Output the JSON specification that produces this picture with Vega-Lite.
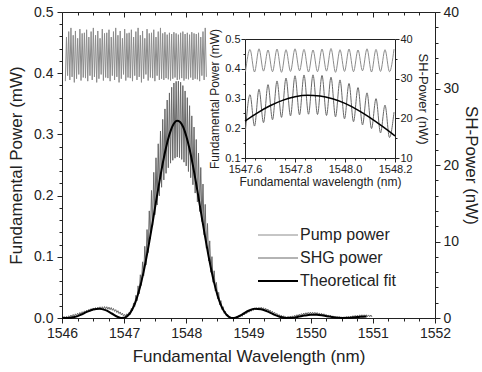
{
"$schema": "https://vega.github.io/schema/vega-lite/v6.json",
"width": 373, "height": 306,
"autosize": "none",
"padding": {"left": 62, "top": 12, "right": 47, "bottom": 54},
"config": {
  "font": "Liberation Sans",
  "view": {"stroke": null},
  "axis": {"grid": false, "labelFont": "Liberation Sans", "titleFont": "Liberation Sans", "titleFontWeight": "normal", "domainColor": "#222", "tickColor": "#222", "labelColor": "#222", "titleColor": "#222"},
  "legend": {"labelFont": "Liberation Sans"}
},
"datasets": {
"pump": [
{"wl":1546.054,"p":0.387},{"wl":1546.072,"p":0.459},{"wl":1546.090,"p":0.396},{"wl":1546.108,"p":0.468},{"wl":1546.126,"p":0.389},{"wl":1546.144,"p":0.474},{"wl":1546.162,"p":0.394},{"wl":1546.180,"p":0.462},{"wl":1546.198,"p":0.385},{"wl":1546.216,"p":0.469},{"wl":1546.234,"p":0.391},{"wl":1546.252,"p":0.457},{"wl":1546.270,"p":0.398},{"wl":1546.288,"p":0.472},{"wl":1546.306,"p":0.388},{"wl":1546.324,"p":0.465},{"wl":1546.342,"p":0.393},{"wl":1546.360,"p":0.466},{"wl":1546.378,"p":0.392},{"wl":1546.396,"p":0.471},{"wl":1546.414,"p":0.387},{"wl":1546.432,"p":0.459},{"wl":1546.450,"p":0.396},{"wl":1546.468,"p":0.468},{"wl":1546.486,"p":0.389},{"wl":1546.504,"p":0.474},{"wl":1546.522,"p":0.394},{"wl":1546.540,"p":0.462},{"wl":1546.558,"p":0.385},{"wl":1546.576,"p":0.469},{"wl":1546.594,"p":0.391},{"wl":1546.612,"p":0.457},{"wl":1546.630,"p":0.398},{"wl":1546.648,"p":0.472},{"wl":1546.666,"p":0.388},{"wl":1546.684,"p":0.465},{"wl":1546.702,"p":0.393},{"wl":1546.720,"p":0.466},{"wl":1546.738,"p":0.392},{"wl":1546.756,"p":0.471},{"wl":1546.774,"p":0.387},{"wl":1546.792,"p":0.459},{"wl":1546.810,"p":0.396},{"wl":1546.828,"p":0.468},{"wl":1546.846,"p":0.389},{"wl":1546.864,"p":0.474},{"wl":1546.882,"p":0.394},{"wl":1546.900,"p":0.462},{"wl":1546.918,"p":0.385},{"wl":1546.936,"p":0.469},{"wl":1546.954,"p":0.391},{"wl":1546.972,"p":0.457},{"wl":1546.990,"p":0.398},{"wl":1547.008,"p":0.472},{"wl":1547.026,"p":0.388},{"wl":1547.044,"p":0.465},{"wl":1547.062,"p":0.393},{"wl":1547.080,"p":0.466},{"wl":1547.098,"p":0.392},{"wl":1547.116,"p":0.471},{"wl":1547.134,"p":0.387},{"wl":1547.152,"p":0.459},{"wl":1547.170,"p":0.396},{"wl":1547.188,"p":0.468},{"wl":1547.206,"p":0.389},{"wl":1547.224,"p":0.474},{"wl":1547.242,"p":0.394},{"wl":1547.260,"p":0.462},{"wl":1547.278,"p":0.385},{"wl":1547.296,"p":0.469},{"wl":1547.314,"p":0.391},{"wl":1547.332,"p":0.457},{"wl":1547.350,"p":0.398},{"wl":1547.368,"p":0.472},{"wl":1547.386,"p":0.388},{"wl":1547.404,"p":0.465},{"wl":1547.422,"p":0.393},{"wl":1547.440,"p":0.466},{"wl":1547.458,"p":0.392},{"wl":1547.476,"p":0.471},{"wl":1547.494,"p":0.387},{"wl":1547.512,"p":0.459},{"wl":1547.530,"p":0.396},{"wl":1547.548,"p":0.468},{"wl":1547.566,"p":0.389},{"wl":1547.584,"p":0.474},{"wl":1547.602,"p":0.391},{"wl":1547.620,"p":0.465},{"wl":1547.638,"p":0.389},{"wl":1547.656,"p":0.467},{"wl":1547.674,"p":0.392},{"wl":1547.692,"p":0.463},{"wl":1547.710,"p":0.390},{"wl":1547.728,"p":0.466},{"wl":1547.746,"p":0.388},{"wl":1547.764,"p":0.464},{"wl":1547.782,"p":0.391},{"wl":1547.800,"p":0.467},{"wl":1547.818,"p":0.393},{"wl":1547.836,"p":0.465},{"wl":1547.854,"p":0.389},{"wl":1547.872,"p":0.463},{"wl":1547.890,"p":0.390},{"wl":1547.908,"p":0.466},{"wl":1547.926,"p":0.392},{"wl":1547.944,"p":0.468},{"wl":1547.962,"p":0.388},{"wl":1547.980,"p":0.464},{"wl":1547.998,"p":0.391},{"wl":1548.016,"p":0.466},{"wl":1548.034,"p":0.390},{"wl":1548.052,"p":0.463},{"wl":1548.070,"p":0.393},{"wl":1548.088,"p":0.467},{"wl":1548.106,"p":0.389},{"wl":1548.124,"p":0.465},{"wl":1548.142,"p":0.391},{"wl":1548.160,"p":0.464},{"wl":1548.178,"p":0.390},{"wl":1548.196,"p":0.466},{"wl":1548.214,"p":0.387},{"wl":1548.232,"p":0.459},{"wl":1548.250,"p":0.396},{"wl":1548.268,"p":0.468},{"wl":1548.286,"p":0.389},{"wl":1548.304,"p":0.474},{"wl":1548.322,"p":0.394}
],
"shg": [
{"wl":1546.000,"s":0.10},{"wl":1546.018,"s":0.02},{"wl":1546.036,"s":0.17},{"wl":1546.054,"s":0.02},{"wl":1546.072,"s":0.22},{"wl":1546.090,"s":0.04},{"wl":1546.108,"s":0.29},{"wl":1546.126,"s":0.08},{"wl":1546.144,"s":0.39},{"wl":1546.162,"s":0.12},{"wl":1546.180,"s":0.46},{"wl":1546.198,"s":0.20},{"wl":1546.216,"s":0.54},{"wl":1546.234,"s":0.29},{"wl":1546.252,"s":0.63},{"wl":1546.270,"s":0.38},{"wl":1546.288,"s":0.72},{"wl":1546.306,"s":0.47},{"wl":1546.324,"s":0.82},{"wl":1546.342,"s":0.58},{"wl":1546.360,"s":0.93},{"wl":1546.378,"s":0.68},{"wl":1546.396,"s":1.04},{"wl":1546.414,"s":0.79},{"wl":1546.432,"s":1.13},{"wl":1546.450,"s":0.88},{"wl":1546.468,"s":1.22},{"wl":1546.486,"s":0.97},{"wl":1546.504,"s":1.31},{"wl":1546.522,"s":1.03},{"wl":1546.540,"s":1.36},{"wl":1546.558,"s":1.09},{"wl":1546.576,"s":1.41},{"wl":1546.594,"s":1.14},{"wl":1546.612,"s":1.46},{"wl":1546.630,"s":1.17},{"wl":1546.648,"s":1.47},{"wl":1546.666,"s":1.18},{"wl":1546.684,"s":1.49},{"wl":1546.702,"s":1.20},{"wl":1546.720,"s":1.47},{"wl":1546.738,"s":1.14},{"wl":1546.756,"s":1.42},{"wl":1546.774,"s":1.09},{"wl":1546.792,"s":1.36},{"wl":1546.810,"s":1.01},{"wl":1546.828,"s":1.24},{"wl":1546.846,"s":0.87},{"wl":1546.864,"s":1.09},{"wl":1546.882,"s":0.72},{"wl":1546.900,"s":0.95},{"wl":1546.918,"s":0.57},{"wl":1546.936,"s":0.79},{"wl":1546.954,"s":0.41},{"wl":1546.972,"s":0.63},{"wl":1546.990,"s":0.25},{"wl":1547.008,"s":0.47},{"wl":1547.026,"s":0.23},{"wl":1547.044,"s":0.55},{"wl":1547.062,"s":0.30},{"wl":1547.080,"s":0.73},{"wl":1547.098,"s":0.47},{"wl":1547.116,"s":1.26},{"wl":1547.134,"s":0.93},{"wl":1547.152,"s":1.97},{"wl":1547.170,"s":1.51},{"wl":1547.188,"s":2.96},{"wl":1547.206,"s":2.24},{"wl":1547.224,"s":4.20},{"wl":1547.242,"s":3.17},{"wl":1547.260,"s":5.65},{"wl":1547.278,"s":4.26},{"wl":1547.296,"s":7.34},{"wl":1547.314,"s":5.53},{"wl":1547.332,"s":9.37},{"wl":1547.350,"s":6.92},{"wl":1547.368,"s":11.56},{"wl":1547.386,"s":8.55},{"wl":1547.404,"s":14.0},{"wl":1547.422,"s":10.31},{"wl":1547.440,"s":16.67},{"wl":1547.458,"s":12.12},{"wl":1547.476,"s":19.04},{"wl":1547.494,"s":13.5},{"wl":1547.512,"s":20.94},{"wl":1547.530,"s":14.77},{"wl":1547.548,"s":22.77},{"wl":1547.566,"s":15.97},{"wl":1547.584,"s":24.43},{"wl":1547.602,"s":17.09},{"wl":1547.620,"s":25.96},{"wl":1547.638,"s":18.05},{"wl":1547.656,"s":27.33},{"wl":1547.674,"s":18.91},{"wl":1547.692,"s":28.49},{"wl":1547.710,"s":19.64},{"wl":1547.728,"s":29.42},{"wl":1547.746,"s":20.24},{"wl":1547.764,"s":30.16},{"wl":1547.782,"s":20.62},{"wl":1547.800,"s":30.72},{"wl":1547.818,"s":20.89},{"wl":1547.836,"s":30.93},{"wl":1547.854,"s":21.04},{"wl":1547.872,"s":30.96},{"wl":1547.890,"s":20.97},{"wl":1547.908,"s":30.82},{"wl":1547.926,"s":20.73},{"wl":1547.944,"s":30.38},{"wl":1547.962,"s":20.37},{"wl":1547.980,"s":29.68},{"wl":1547.998,"s":19.88},{"wl":1548.016,"s":28.8},{"wl":1548.034,"s":19.15},{"wl":1548.052,"s":27.75},{"wl":1548.070,"s":18.34},{"wl":1548.088,"s":26.42},{"wl":1548.106,"s":17.42},{"wl":1548.124,"s":24.96},{"wl":1548.142,"s":16.33},{"wl":1548.160,"s":23.33},{"wl":1548.178,"s":15.17},{"wl":1548.196,"s":21.56},{"wl":1548.214,"s":13.93},{"wl":1548.232,"s":19.67},{"wl":1548.250,"s":12.61},{"wl":1548.268,"s":17.51},{"wl":1548.286,"s":10.88},{"wl":1548.304,"s":14.85},{"wl":1548.322,"s":9.12},{"wl":1548.340,"s":12.35},{"wl":1548.358,"s":7.47},{"wl":1548.376,"s":10.08},{"wl":1548.394,"s":5.98},{"wl":1548.412,"s":8.02},{"wl":1548.430,"s":4.67},{"wl":1548.448,"s":6.17},{"wl":1548.466,"s":3.52},{"wl":1548.484,"s":4.65},{"wl":1548.502,"s":2.52},{"wl":1548.520,"s":3.35},{"wl":1548.538,"s":1.73},{"wl":1548.556,"s":2.27},{"wl":1548.574,"s":1.11},{"wl":1548.592,"s":1.47},{"wl":1548.610,"s":0.61},{"wl":1548.628,"s":0.89},{"wl":1548.646,"s":0.27},{"wl":1548.664,"s":0.47},{"wl":1548.682,"s":0.07},{"wl":1548.700,"s":0.21},{"wl":1548.718,"s":0.02},{"wl":1548.736,"s":0.10},{"wl":1548.754,"s":0.0},{"wl":1548.772,"s":0.07},{"wl":1548.790,"s":0.0},{"wl":1548.808,"s":0.14},{"wl":1548.826,"s":0.03},{"wl":1548.844,"s":0.30},{"wl":1548.862,"s":0.12},{"wl":1548.880,"s":0.41},{"wl":1548.898,"s":0.22},{"wl":1548.916,"s":0.55},{"wl":1548.934,"s":0.40},{"wl":1548.952,"s":0.73},{"wl":1548.970,"s":0.58},{"wl":1548.988,"s":0.91},{"wl":1549.006,"s":0.75},{"wl":1549.024,"s":1.05},{"wl":1549.042,"s":0.88},{"wl":1549.060,"s":1.18},{"wl":1549.078,"s":1.00},{"wl":1549.096,"s":1.31},{"wl":1549.114,"s":1.09},{"wl":1549.132,"s":1.35},{"wl":1549.150,"s":1.13},{"wl":1549.168,"s":1.39},{"wl":1549.186,"s":1.17},{"wl":1549.204,"s":1.41},{"wl":1549.222,"s":1.14},{"wl":1549.240,"s":1.34},{"wl":1549.258,"s":1.06},{"wl":1549.276,"s":1.27},{"wl":1549.294,"s":0.99},{"wl":1549.312,"s":1.17},{"wl":1549.330,"s":0.86},{"wl":1549.348,"s":1.03},{"wl":1549.366,"s":0.72},{"wl":1549.384,"s":0.88},{"wl":1549.402,"s":0.57},{"wl":1549.420,"s":0.74},{"wl":1549.438,"s":0.43},{"wl":1549.456,"s":0.60},{"wl":1549.474,"s":0.28},{"wl":1549.492,"s":0.45},{"wl":1549.510,"s":0.16},{"wl":1549.528,"s":0.36},{"wl":1549.546,"s":0.09},{"wl":1549.564,"s":0.29},{"wl":1549.582,"s":0.04},{"wl":1549.600,"s":0.18},{"wl":1549.618,"s":0.02},{"wl":1549.636,"s":0.21},{"wl":1549.654,"s":0.03},{"wl":1549.672,"s":0.23},{"wl":1549.690,"s":0.05},{"wl":1549.708,"s":0.28},{"wl":1549.726,"s":0.08},{"wl":1549.744,"s":0.36},{"wl":1549.762,"s":0.15},{"wl":1549.780,"s":0.43},{"wl":1549.798,"s":0.23},{"wl":1549.816,"s":0.50},{"wl":1549.834,"s":0.30},{"wl":1549.852,"s":0.57},{"wl":1549.870,"s":0.37},{"wl":1549.888,"s":0.65},{"wl":1549.906,"s":0.44},{"wl":1549.924,"s":0.69},{"wl":1549.942,"s":0.47},{"wl":1549.960,"s":0.73},{"wl":1549.978,"s":0.51},{"wl":1549.996,"s":0.77},{"wl":1550.014,"s":0.52},{"wl":1550.032,"s":0.75},{"wl":1550.050,"s":0.51},{"wl":1550.068,"s":0.74},{"wl":1550.086,"s":0.49},{"wl":1550.104,"s":0.71},{"wl":1550.122,"s":0.45},{"wl":1550.140,"s":0.66},{"wl":1550.158,"s":0.39},{"wl":1550.176,"s":0.61},{"wl":1550.194,"s":0.34},{"wl":1550.212,"s":0.55},{"wl":1550.230,"s":0.27},{"wl":1550.248,"s":0.47},{"wl":1550.266,"s":0.20},{"wl":1550.284,"s":0.40},{"wl":1550.302,"s":0.13},{"wl":1550.320,"s":0.34},{"wl":1550.338,"s":0.07},{"wl":1550.356,"s":0.28},{"wl":1550.374,"s":0.04},{"wl":1550.392,"s":0.20},{"wl":1550.410,"s":0.02},{"wl":1550.428,"s":0.16},{"wl":1550.446,"s":0.01},{"wl":1550.464,"s":0.13},{"wl":1550.482,"s":0.0},{"wl":1550.500,"s":0.11},{"wl":1550.518,"s":0.0},{"wl":1550.536,"s":0.13},{"wl":1550.554,"s":0.01},{"wl":1550.572,"s":0.16},{"wl":1550.590,"s":0.02},{"wl":1550.608,"s":0.19},{"wl":1550.626,"s":0.03},{"wl":1550.644,"s":0.24},{"wl":1550.662,"s":0.05},{"wl":1550.680,"s":0.30},{"wl":1550.698,"s":0.08},{"wl":1550.716,"s":0.34},{"wl":1550.734,"s":0.11},{"wl":1550.752,"s":0.37},{"wl":1550.770,"s":0.15},{"wl":1550.788,"s":0.41},{"wl":1550.806,"s":0.18},{"wl":1550.824,"s":0.42},{"wl":1550.842,"s":0.18},{"wl":1550.860,"s":0.42},{"wl":1550.878,"s":0.18},{"wl":1550.896,"s":0.42},{"wl":1550.914,"s":0.17},{"wl":1550.932,"s":0.40},{"wl":1550.950,"s":0.16},{"wl":1550.968,"s":0.39},{"wl":1550.986,"s":0.14}
],
"fit": [
{"wl":1546,"f":0.046},{"wl":1546.1,"f":0.003},{"wl":1546.2,"f":0.127},{"wl":1546.3,"f":0.418},{"wl":1546.4,"f":0.794},{"wl":1546.5,"f":1.111},{"wl":1546.6,"f":1.215},{"wl":1546.7,"f":1.023},{"wl":1546.8,"f":0.588},{"wl":1546.9,"f":0.134},{"wl":1546.95,"f":0.012},{"wl":1547,"f":0.031},{"wl":1547.05,"f":0.245},{"wl":1547.1,"f":0.704},{"wl":1547.15,"f":1.447},{"wl":1547.2,"f":2.503},{"wl":1547.25,"f":3.884},{"wl":1547.3,"f":5.572},{"wl":1547.35,"f":7.548},{"wl":1547.4,"f":9.757},{"wl":1547.45,"f":12.127},{"wl":1547.5,"f":14.585},{"wl":1547.55,"f":17.01},{"wl":1547.6,"f":19.325},{"wl":1547.65,"f":21.398},{"wl":1547.7,"f":23.161},{"wl":1547.75,"f":24.528},{"wl":1547.8,"f":25.416},{"wl":1547.85,"f":25.789},{"wl":1547.9,"f":25.629},{"wl":1547.95,"f":24.944},{"wl":1548,"f":23.765},{"wl":1548.05,"f":22.149},{"wl":1548.1,"f":20.182},{"wl":1548.15,"f":17.948},{"wl":1548.2,"f":15.563},{"wl":1548.25,"f":13.105},{"wl":1548.3,"f":10.692},{"wl":1548.35,"f":8.407},{"wl":1548.4,"f":6.334},{"wl":1548.45,"f":4.525},{"wl":1548.5,"f":3.016},{"wl":1548.55,"f":1.827},{"wl":1548.6,"f":0.964},{"wl":1548.65,"f":0.398},{"wl":1548.7,"f":0.091},{"wl":1548.75,"f":0},{"wl":1548.8,"f":0.072},{"wl":1548.9,"f":0.488},{"wl":1549,"f":0.95},{"wl":1549.1,"f":1.201},{"wl":1549.2,"f":1.153},{"wl":1549.3,"f":0.868},{"wl":1549.4,"f":0.489},{"wl":1549.5,"f":0.173},{"wl":1549.6,"f":0.014},{"wl":1549.7,"f":0.027},{"wl":1549.8,"f":0.158},{"wl":1549.9,"f":0.314},{"wl":1550,"f":0.413},{"wl":1550.1,"f":0.411},{"wl":1550.2,"f":0.319},{"wl":1550.3,"f":0.183},{"wl":1550.4,"f":0.063},{"wl":1550.5,"f":0.003},{"wl":1550.6,"f":0.017},{"wl":1550.7,"f":0.082},{"wl":1550.8,"f":0.159},{"wl":1550.9,"f":0.209}
]
},
"resolve": {"scale": {"x": "independent", "y": "independent"}, "axis": {"x": "independent", "y": "independent"}},
"layer": [
{
  "data": {"name": "pump"},
  "mark": {"type": "line", "strokeWidth": 1},
  "encoding": {
    "x": {"field": "wl", "type": "quantitative", "scale": {"domain": [1546, 1552], "nice": false, "zero": false},
      "axis": {"orient": "bottom", "title": "Fundamental Wavelength (nm)", "values": [1546,1546.25,1546.5,1546.75,1547,1547.25,1547.5,1547.75,1548,1548.25,1548.5,1548.75,1549,1549.25,1549.5,1549.75,1550,1550.25,1550.5,1550.75,1551,1551.25,1551.5,1551.75,1552],
        "labelExpr": "datum.value % 1 === 0 ? format(datum.value, 'd') : ''",
        "tickSize": {"condition": {"test": "datum.value % 1 === 0", "value": 5}, "value": 3},
        "labelFontSize": 14, "titleFontSize": 17, "labelPadding": 3, "titlePadding": 8, "labelOverlap": false, "labelFlush": false}},
    "y": {"field": "p", "type": "quantitative", "scale": {"domain": [0, 0.5], "nice": false, "zero": false},
      "axis": {"orient": "left", "title": "Fundamental Power (mW)", "values": [0,0.02,0.04,0.06,0.08,0.1,0.12,0.14,0.16,0.18,0.2,0.22,0.24,0.26,0.28,0.3,0.32,0.34,0.36,0.38,0.4,0.42,0.44,0.46,0.48,0.5],
        "labelExpr": "abs(datum.value*10 - round(datum.value*10)) < 0.001 ? format(datum.value, '.1f') : ''",
        "tickSize": {"condition": {"test": "abs(datum.value*10 - round(datum.value*10)) < 0.001", "value": 5}, "value": 3},
        "labelFontSize": 14, "titleFontSize": 17, "labelPadding": 4, "titlePadding": 8, "labelOverlap": false, "labelFlush": false}},
    "color": {"datum": "Pump power", "type": "nominal",
      "scale": {"domain": ["Pump power", "SHG power", "Theoretical fit"], "range": ["#8c8c8c", "#686868", "#000000"]},
      "legend": {"title": null, "orient": "none", "legendX": 208, "legendY": 215, "symbolType": "stroke", "symbolSize": 1600, "labelFontSize": 16, "labelColor": "#222", "rowPadding": 7, "labelOffset": 14,
        "encode": {"symbols": {"update": {"strokeWidth": {"signal": "datum.value === 'Theoretical fit' ? 2 : 1"}}}}}}
  }
},
{
  "encoding": {
    "x": {"field": "wl", "type": "quantitative", "scale": {"domain": [1546, 1552], "nice": false, "zero": false},
      "axis": {"orient": "top", "title": null, "labels": false, "values": [1546,1546.25,1546.5,1546.75,1547,1547.25,1547.5,1547.75,1548,1548.25,1548.5,1548.75,1549,1549.25,1549.5,1549.75,1550,1550.25,1550.5,1550.75,1551,1551.25,1551.5,1551.75,1552],
        "tickSize": {"condition": {"test": "datum.value % 1 === 0", "value": -5}, "value": -3}}}
  },
  "layer": [
    {
      "data": {"name": "shg"},
      "mark": {"type": "line", "strokeWidth": 1},
      "encoding": {
        "y": {"field": "s", "type": "quantitative", "scale": {"domain": [0, 40], "nice": false, "zero": false},
          "axis": {"orient": "right", "title": "SH-Power (nW)", "values": [0,2,4,6,8,10,12,14,16,18,20,22,24,26,28,30,32,34,36,38,40],
            "labelExpr": "datum.value % 10 === 0 ? datum.label : ''",
            "tickSize": {"condition": {"test": "datum.value % 10 === 0", "value": 5}, "value": 3},
            "labelFontSize": 14, "titleFontSize": 17, "labelPadding": 3, "titlePadding": 3, "labelOverlap": false, "labelFlush": false}},
        "color": {"datum": "SHG power", "type": "nominal"}
      }
    },
    {
      "data": {"name": "fit"},
      "mark": {"type": "line", "strokeWidth": 2, "interpolate": "monotone"},
      "encoding": {
        "y": {"field": "f", "type": "quantitative", "scale": {"domain": [0, 40], "nice": false, "zero": false},
          "axis": {"orient": "right", "title": "SH-Power (nW)", "values": [0,2,4,6,8,10,12,14,16,18,20,22,24,26,28,30,32,34,36,38,40],
            "labelExpr": "datum.value % 10 === 0 ? datum.label : ''",
            "tickSize": {"condition": {"test": "datum.value % 10 === 0", "value": 5}, "value": 3},
            "labelFontSize": 14, "titleFontSize": 17, "labelPadding": 3, "titlePadding": 3, "labelOverlap": false, "labelFlush": false}},
        "color": {"datum": "Theoretical fit", "type": "nominal"}
      }
    }
  ]
},
{
  "data": {"name": "pump"},
  "transform": [{"filter": "datum.wl >= 1547.6 && datum.wl <= 1548.2"}],
  "mark": {"type": "line", "strokeWidth": 1, "interpolate": "monotone"},
  "encoding": {
    "x": {"field": "wl", "type": "quantitative", "scale": {"domain": [1547.6, 1548.2], "range": [183, 333], "nice": false, "zero": false},
      "axis": {"orient": "bottom", "offset": -160, "title": "Fundamental wavelength (nm)", "values": [1547.6,1547.64,1547.68,1547.72,1547.76,1547.8,1547.84,1547.88,1547.92,1547.96,1548,1548.04,1548.08,1548.12,1548.16,1548.2],
        "labelExpr": "abs(datum.value*5 - round(datum.value*5)) < 0.001 ? format(datum.value, '.1f') : ''",
        "tickSize": {"condition": {"test": "abs(datum.value*5 - round(datum.value*5)) < 0.001", "value": 4}, "value": 2},
        "labelFontSize": 11, "titleFontSize": 12, "labelPadding": 1, "titlePadding": 2, "labelOverlap": false, "labelFlush": false}},
    "y": {"field": "p", "type": "quantitative", "scale": {"domain": [0.1, 0.5], "range": [146, 27], "nice": false, "zero": false},
      "axis": {"orient": "left", "offset": -183, "title": "Fundamental Power (mW)", "values": [0.1,0.15,0.2,0.25,0.3,0.35,0.4,0.45,0.5],
        "labelExpr": "abs(datum.value*10 - round(datum.value*10)) < 0.001 ? format(datum.value, '.1f') : ''",
        "tickSize": {"condition": {"test": "abs(datum.value*10 - round(datum.value*10)) < 0.001", "value": 4}, "value": 2},
        "labelFontSize": 11, "titleFontSize": 12, "labelPadding": 1, "titlePadding": 3, "labelOverlap": false, "labelFlush": false}},
    "color": {"datum": "Pump power", "type": "nominal"}
  }
},
{
  "encoding": {
    "x": {"field": "wl", "type": "quantitative", "scale": {"domain": [1547.6, 1548.2], "range": [183, 333], "nice": false, "zero": false},
      "axis": {"orient": "top", "offset": -27, "title": null, "labels": false, "ticks": false}}
  },
  "layer": [
    {
      "data": {"name": "shg"},
      "transform": [{"filter": "datum.wl >= 1547.6 && datum.wl <= 1548.2"}],
      "mark": {"type": "line", "strokeWidth": 1, "interpolate": "monotone"},
      "encoding": {
        "y": {"field": "s", "type": "quantitative", "scale": {"domain": [10, 40], "range": [146, 27], "nice": false, "zero": false},
          "axis": {"orient": "right", "offset": -40, "title": "SH-Power (nW)", "values": [10,15,20,25,30,35,40],
            "labelExpr": "datum.value % 10 === 0 ? datum.label : ''",
            "tickSize": {"condition": {"test": "datum.value % 10 === 0", "value": 4}, "value": 2},
            "labelFontSize": 11, "titleFontSize": 13, "labelPadding": 1, "titlePadding": 3, "labelOverlap": false, "labelFlush": false}},
        "color": {"datum": "SHG power", "type": "nominal"}
      }
    },
    {
      "data": {"name": "fit"},
      "transform": [{"filter": "datum.wl >= 1547.6 && datum.wl <= 1548.2"}],
      "mark": {"type": "line", "strokeWidth": 1.5, "interpolate": "monotone"},
      "encoding": {
        "y": {"field": "f", "type": "quantitative", "scale": {"domain": [10, 40], "range": [146, 27], "nice": false, "zero": false},
          "axis": {"orient": "right", "offset": -40, "title": "SH-Power (nW)", "values": [10,15,20,25,30,35,40],
            "labelExpr": "datum.value % 10 === 0 ? datum.label : ''",
            "tickSize": {"condition": {"test": "datum.value % 10 === 0", "value": 4}, "value": 2},
            "labelFontSize": 11, "titleFontSize": 13, "labelPadding": 1, "titlePadding": 3, "labelOverlap": false, "labelFlush": false}},
        "color": {"datum": "Theoretical fit", "type": "nominal"}
      }
    }
  ]
}
]
}
